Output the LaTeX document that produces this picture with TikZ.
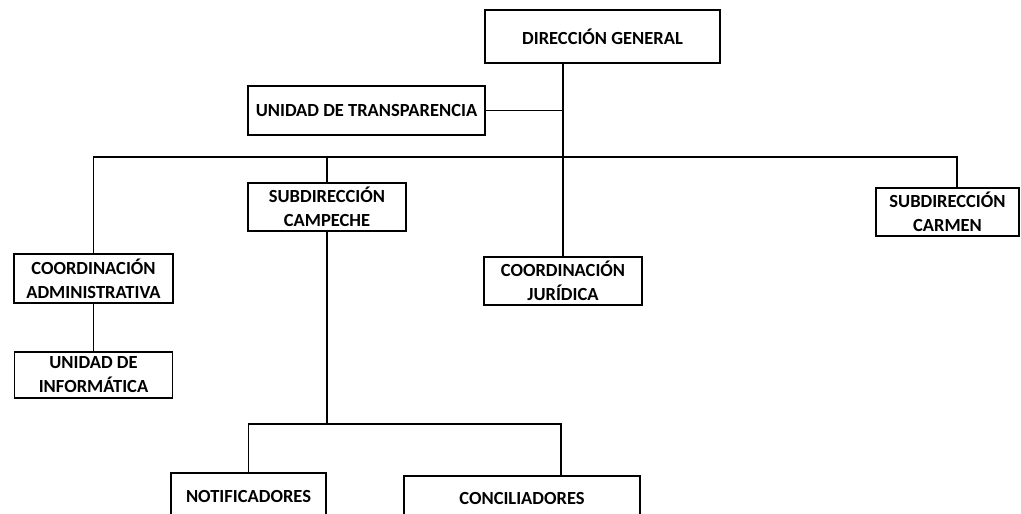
\documentclass[tikz,border=0pt]{standalone}
\usepackage{fontspec}
\setmainfont{Carlito}
\begin{document}
\begin{tikzpicture}[x=1bp,y=-1bp,
  box/.style={draw,line width=1.4bp,rectangle,inner sep=0pt,align=center,
    font=\fontsize{18.5bp}{24bp}\selectfont\bfseries},
  conn/.style={line width=1.3bp}]
\useasboundingbox (0,0) rectangle (1021,514);
\clip (0,0) rectangle (1021,514);
\node[box,minimum width=235bp,minimum height=53bp] (dg) at (602.5,36.5) {DIRECCIÓN GENERAL};
\node[box,minimum width=237bp,minimum height=49bp] (ut) at (366.5,110.5) {UNIDAD DE TRANSPARENCIA};
\node[box,minimum width=158bp,minimum height=48bp] (sc) at (327,207) {SUBDIRECCIÓN\\CAMPECHE};
\node[box,minimum width=143bp,minimum height=48bp] (scar) at (947.5,212) {SUBDIRECCIÓN\\CARMEN};
\node[box,minimum width=159bp,minimum height=49bp] (ca) at (93.5,278.5) {COORDINACIÓN\\ADMINISTRATIVA};
\node[box,minimum width=158bp,minimum height=48bp] (cj) at (563,281) {COORDINACIÓN\\JURÍDICA};
\node[box,minimum width=158bp,minimum height=46bp] (ui) at (93.5,375) {UNIDAD DE\\INFORMÁTICA};
\node[box,minimum width=155bp,minimum height=46bp] (nt) at (248.5,496) {NOTIFICADORES};
\node[box,minimum width=236bp,minimum height=44bp] (cn) at (522,498) {CONCILIADORES};
\coordinate (j1) at (563,157);
\coordinate (bl) at (93.5,157);
\coordinate (br) at (957,157);
\coordinate (j2) at (327,424);
\coordinate (b2l) at (248.5,424);
\coordinate (b2r) at (561,424);
\draw[conn] (dg.south -| j1) -- (j1) -- (cj.north);
\draw[conn] (ut.east) -- (ut.east -| j1);
\draw[conn] (ca.north) -- (bl) -- (br) -- (scar.north -| br);
\draw[conn] (sc.north) -- (sc.north |- bl);
\draw[conn] (ca.south) -- (ui.north);
\draw[conn] (sc.south) -- (j2);
\draw[conn] (nt.north) -- (b2l) -- (b2r) -- (cn.north -| b2r);
\end{tikzpicture}
\end{document}
